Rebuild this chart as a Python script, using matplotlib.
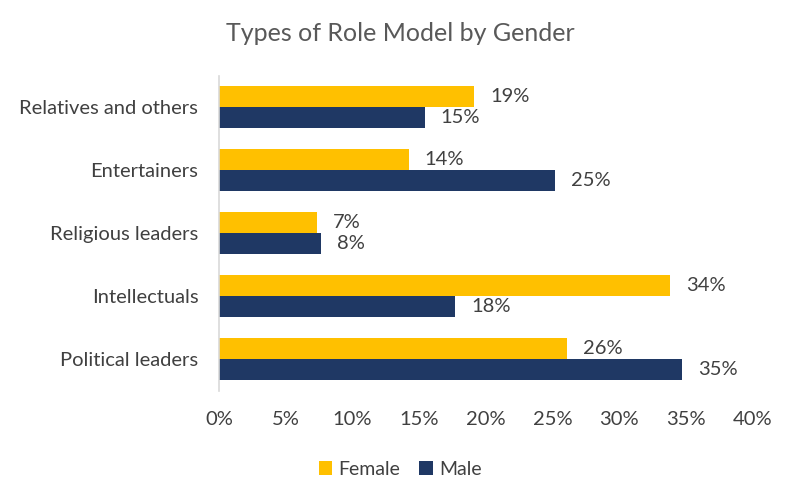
import numpy as np
from matplotlib import pyplot as plt
from matplotlib.ticker import FuncFormatter

plt.rcParams['font.family'] = ['Lato', 'DejaVu Sans']

categories = ["Relatives and others", "Entertainers", "Religious leaders",
              "Intellectuals", "Political leaders"]
female = [19.1, 14.2, 7.3, 33.8, 26.1]
male = [15.4, 25.2, 7.6, 17.7, 34.7]
female_labels = ["19%", "14%", "7%", "34%", "26%"]
male_labels = ["15%", "25%", "8%", "18%", "35%"]

female_color = "#FFC000"
male_color = "#1F3864"
text_color = "#404040"

fig = plt.figure(figsize=(8, 4.97), dpi=100)
ax = fig.add_axes([0.274, 0.214, 0.667, 0.634])

y = np.arange(len(categories))
h = 0.333
ax.barh(y - h / 2, female, height=h, color=female_color, label="Female")
ax.barh(y + h / 2, male, height=h, color=male_color, label="Male")

for i in range(len(categories)):
    ax.text(female[i] + 1.2, y[i] - h / 2, female_labels[i], va="center",
            ha="left", fontsize=14.5, color=text_color)
    ax.text(male[i] + 1.2, y[i] + h / 2, male_labels[i], va="center",
            ha="left", fontsize=14.5, color=text_color)

ax.set_xlim(0, 40)
ax.set_ylim(len(categories) - 0.5, -0.5)
ax.set_xticks(np.arange(0, 41, 5))
ax.xaxis.set_major_formatter(FuncFormatter(lambda v, p: "{:.0f}%".format(v)))
ax.set_yticks(y)
ax.set_yticklabels(categories)
ax.tick_params(axis="both", length=0, labelsize=14.5, colors=text_color)
ax.tick_params(axis="x", pad=15)
ax.tick_params(axis="y", pad=15)

for s in ["top", "right", "bottom"]:
    ax.spines[s].set_visible(False)
ax.spines["left"].set_color("#D9D9D9")
ax.spines["left"].set_linewidth(1.2)

fig.suptitle("Types of Role Model by Gender", y=0.955, fontsize=18,
             color="#595959")
fig.legend(loc="center", bbox_to_anchor=(0.5, 0.056), ncol=2, frameon=False,
           fontsize=14, handlelength=0.7, handleheight=0.7,
           handletextpad=0.3, columnspacing=1.0, labelcolor=text_color)

fig.savefig("out.png", dpi=100)
